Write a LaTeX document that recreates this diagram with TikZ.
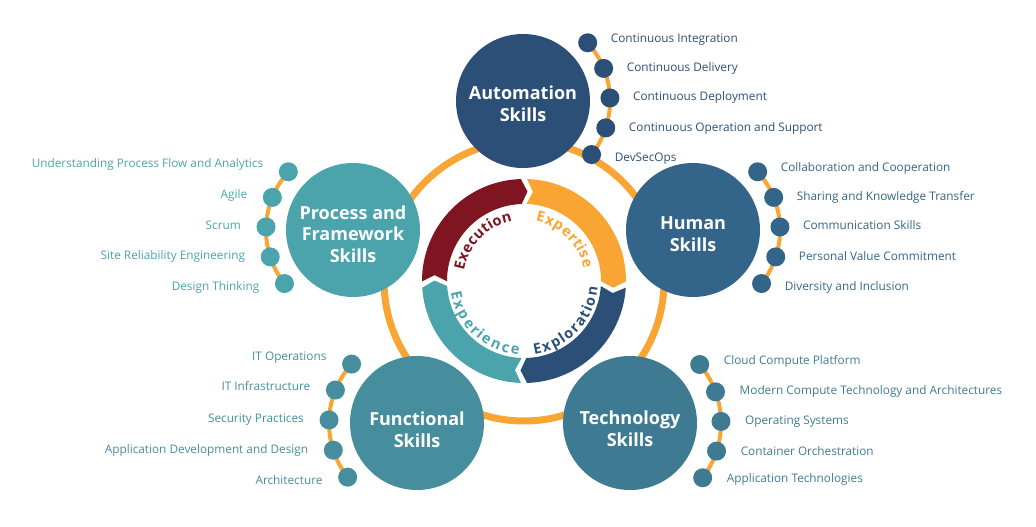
\documentclass[tikz,border=0pt]{standalone}
\usepackage{fontspec}
\setmainfont{Open Sans}
\usepackage{xcolor}
\usetikzlibrary{positioning,decorations.text}

\definecolor{autoazul}{RGB}{44,79,120}
\definecolor{humazul}{RGB}{51,101,138}
\definecolor{proteal}{RGB}{75,163,171}
\definecolor{funteal}{RGB}{70,142,158}
\definecolor{tecazul}{RGB}{62,123,147}
\definecolor{naranja}{RGB}{249,165,51}
\definecolor{granate}{RGB}{126,21,32}
\newcommand\rotulo{\fontsize{14.5}{17}\selectfont\bfseries}

\tikzset{
  skill/.style={circle, minimum size=134pt, inner sep=0pt},
  titulo/.style={align=center, text=white, yshift=-4pt, font=\fontsize{18}{21.5}\selectfont\bfseries},
  punto/.style={circle, minimum size=19pt, inner sep=0pt},
  arco/.style={naranja, line width=4pt},
  etiqueta/.style={inner sep=0pt, text height=8.5pt, text depth=2.6pt,
    font=\fontsize{11.8}{14}\selectfont},
  ciclo/.style={decorate, decoration={text effects along path, text={#1},
    text effects/.cd, text along path, fit text to path}}
}

\begin{document}
\begin{tikzpicture}[x=1pt,y=1pt]
  \useasboundingbox (0,0) rectangle (1036,527);
  \coordinate (centro) at (524,246);

  % Anillo
  \draw[naranja, line width=7pt] (centro) circle[radius=140pt];

  % Flechas del ciclo
  \foreach \s/\e/\col in {180.25/91.75/granate, 88.25/-0.25/naranja, -3.75/-88.25/autoazul, 268.25/183.75/proteal}
    \fill[\col] ([shift={(\s:102)}]centro) arc[start angle=\s, end angle=\e, radius=102pt]
      -- ([shift={(\e-4:89.5)}]centro) -- ([shift={(\e:77)}]centro)
      arc[start angle=\e, end angle=\s, radius=77pt] -- ([shift={(\s-4:89.5)}]centro) -- cycle;

  \path[ciclo=Execution, decoration={text effects/characters={text=granate, font=\rotulo}}]
    ([shift={(170:61)}]centro) arc[start angle=170, end angle=101, radius=61pt];
  \path[ciclo=Expertise, decoration={text effects/characters={text=naranja, font=\rotulo}}]
    ([shift={(79:61)}]centro) arc[start angle=79, end angle=12, radius=61pt];
  \path[ciclo=Exploration, decoration={text effects/characters={text=autoazul, font=\rotulo}}]
    ([shift={(-82:74)}]centro) arc[start angle=-82, end angle=-5, radius=74pt];
  \path[ciclo=Experience, decoration={text effects/characters={text=proteal, font=\rotulo}}]
    ([shift={(189:74)}]centro) arc[start angle=189, end angle=266, radius=74pt];

  % Nodos
  \node[skill, fill=autoazul, label={[titulo, yshift=1pt]center:Automation\\Skills}] (automation) at (523,426) {};
  \node[skill, fill=humazul, label={[titulo]center:Human\\Skills}] (human) at (693,297) {};
  \node[skill, fill=proteal, label={[titulo]center:Process and\\Framework\\Skills}] (process) at (353,297) {};
  \node[skill, fill=funteal, label={[titulo, yshift=-3pt]center:Functional\\Skills}] (functional) at (417,104) {};
  \node[skill, fill=tecazul, label={[titulo, yshift=-2pt]center:Technology\\Skills}] (technology) at (630,104) {};

  % Automation
  \draw[arco] ([shift={(42:87)}]automation.center) arc[start angle=42, end angle=-38, radius=87pt];
  \foreach \a/\dy/\t [count=\i] in {42/3/Continuous Integration, 22/0/Continuous Delivery,
      2/0/Continuous Deployment, -18/-1/Continuous Operation and Support, -38/-4/DevSecOps}{
    \node[punto, fill=autoazul] (automation-p\i) at ([shift={(\a:87)}]automation.center) {};
    \node[etiqueta, text=autoazul, anchor=west] (automation-e\i) at ([shift={(23,\dy)}]automation-p\i.center) {\t};
  }

  % Human
  \draw[arco] ([shift={(42:87)}]human.center) arc[start angle=42, end angle=-38, radius=87pt];
  \foreach \a/\dy/\t [count=\i] in {42/3/Collaboration and Cooperation, 22/0/Sharing and Knowledge Transfer,
      2/0/Communication Skills, -18/-1/Personal Value Commitment, -38/-4/Diversity and Inclusion}{
    \node[punto, fill=humazul] (human-p\i) at ([shift={(\a:87)}]human.center) {};
    \node[etiqueta, text=humazul, anchor=west] (human-e\i) at ([shift={(23,\dy)}]human-p\i.center) {\t};
  }

  % Technology
  \draw[arco] ([shift={(40:91)}]technology.center) arc[start angle=40, end angle=-37, radius=91pt];
  \foreach \a/\dy/\t [count=\i] in {40/3/Cloud Compute Platform, 20/0/Modern Compute Technology and Architectures,
      1/0/Operating Systems, -18/-1/Container Orchestration, -37/-2/Application Technologies}{
    \node[punto, fill=tecazul] (technology-p\i) at ([shift={(\a:91)}]technology.center) {};
    \node[etiqueta, text=tecazul, anchor=west] (technology-e\i) at ([shift={(24,\dy)}]technology-p\i.center) {\t};
  }

  % Process
  \draw[arco] ([shift={(138:87)}]process.center) arc[start angle=138, end angle=218, radius=87pt];
  \foreach \a/\dy/\t [count=\i] in {138/7/Understanding Process Flow and Analytics, 158/2/Agile,
      178/0/Scrum, 198/0/Site Reliability Engineering, 218/-4/Design Thinking}{
    \node[punto, fill=proteal] (process-p\i) at ([shift={(\a:87)}]process.center) {};
    \node[etiqueta, text=proteal, anchor=east] (process-e\i) at ([shift={(-25,\dy)}]process-p\i.center) {\t};
  }

  % Functional
  \draw[arco] ([shift={(138:88)}]functional.center) arc[start angle=138, end angle=218, radius=88pt];
  \foreach \a/\dy/\t [count=\i] in {138/7/IT Operations, 158/2/IT Infrastructure,
      178/0/Security Practices, 198/0/Application Development and Design, 218/-4/Architecture}{
    \node[punto, fill=funteal] (functional-p\i) at ([shift={(\a:88)}]functional.center) {};
    \node[etiqueta, text=funteal, anchor=east] (functional-e\i) at ([shift={(-25,\dy)}]functional-p\i.center) {\t};
  }
\end{tikzpicture}
\end{document}
